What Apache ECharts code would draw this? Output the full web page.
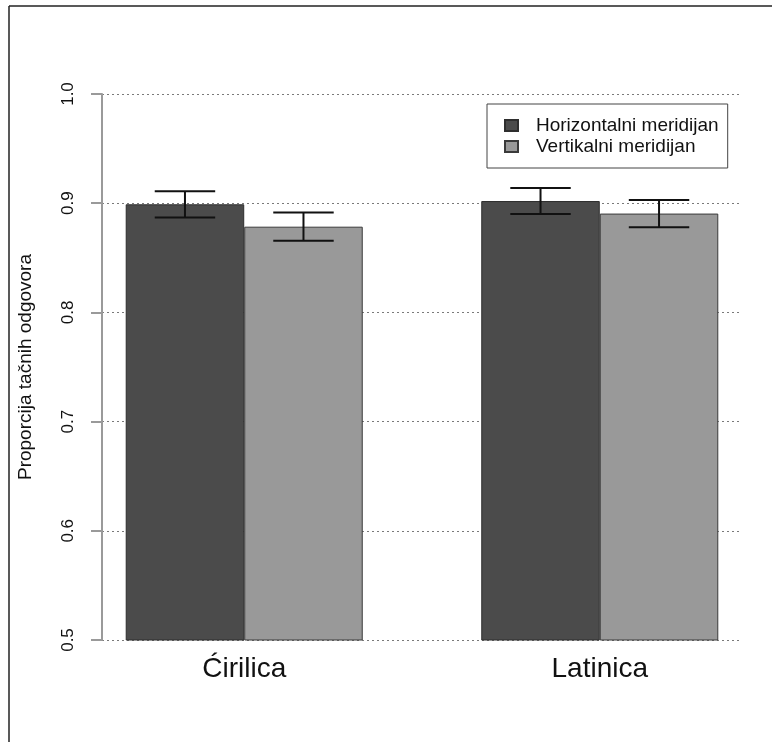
<!DOCTYPE html>
<html>
<head>
<meta charset="utf-8">
<script src="https://cdn.jsdelivr.net/npm/echarts@6/dist/echarts.min.js"></script>
<style>
  html, body { margin: 0; padding: 0; background: #ffffff; }
  #chart { width: 776px; height: 742px; }
</style>
</head>
<body>
<div id="chart"></div>
<script>
// Groups and series
const categories = ['Ćirilica', 'Latinica'];
const seriesNames = ['Horizontalni meridijan', 'Vertikalni meridijan'];

// Mean proportion of correct answers per script
const horizontalMeans = [0.899, 0.902];
const verticalMeans = [0.8785, 0.8905];

// Standard errors (drawn as ±1 SE whiskers)
const horizontalSE = [0.012, 0.012];
const verticalSE = [0.013, 0.0125];

// Y axis ticks
const yTicks = [0.5, 0.6, 0.7, 0.8, 0.9, 1.0];

// Bar slot layout: each group holds two unit-wide bars, groups separated by one bar width
const groupStart = [1, 4];
const xMin = 0.8, xMax = 6.2;

const FONT = "'Liberation Sans', Arial, Helvetica, sans-serif";
const gridLeft = 102, gridRight = 34, gridTop = 94, gridBottom = 102;
const chartW = 776;
const unitPx = (chartW - gridLeft - gridRight) / (xMax - xMin);

const hData = categories.map((c, i) => [groupStart[i] + 0.5, horizontalMeans[i]]);
const vData = categories.map((c, i) => [groupStart[i] + 1.5, verticalMeans[i]]);
const errData = [];
categories.forEach((c, i) => {
  errData.push([groupStart[i] + 0.5, horizontalMeans[i] - horizontalSE[i], horizontalMeans[i] + horizontalSE[i]]);
  errData.push([groupStart[i] + 1.5, verticalMeans[i] - verticalSE[i], verticalMeans[i] + verticalSE[i]]);
});
const labelPositions = categories.map((c, i) => groupStart[i] + 1);

const chart = echarts.init(document.getElementById('chart'), null, { renderer: 'canvas' });

chart.setOption({
  backgroundColor: '#ffffff',
  animation: false,
  textStyle: { fontFamily: FONT },
  grid: { left: gridLeft, right: gridRight, top: gridTop, bottom: gridBottom, containLabel: false },
  xAxis: {
    type: 'value',
    min: xMin,
    max: xMax,
    axisLine: { show: false },
    axisTick: { show: false },
    splitLine: { show: false },
    axisLabel: {
      customValues: labelPositions,
      formatter: v => categories[labelPositions.indexOf(v)] || '',
      fontSize: 28,
      color: '#111',
      margin: 15,
      fontFamily: FONT
    }
  },
  yAxis: {
    type: 'value',
    min: yTicks[0],
    max: yTicks[yTicks.length - 1],
    interval: 0.1,
    name: 'Proporcija tačnih odgovora',
    nameLocation: 'middle',
    nameRotate: 90,
    nameGap: 67,
    nameTextStyle: { fontSize: 19, color: '#111', fontFamily: FONT },
    axisLine: { show: true, lineStyle: { color: '#9a9a9a', width: 2 } },
    axisTick: { show: true, length: 11, lineStyle: { color: '#9a9a9a', width: 2 } },
    axisLabel: {
      rotate: 90,
      margin: 25,
      fontSize: 17,
      color: '#111',
      fontFamily: FONT,
      formatter: v => v.toFixed(1)
    },
    splitLine: { show: true, lineStyle: { color: '#7a7a7a', width: 1, type: [2, 3] } }
  },
  legend: {
    data: seriesNames,
    orient: 'vertical',
    left: 487,
    top: 104,
    padding: [11, 9, 11, 17],
    itemGap: 0,
    itemWidth: 13,
    itemHeight: 11,
    icon: 'rect',
    borderColor: '#444',
    borderWidth: 1,
    textStyle: { fontSize: 19, color: '#111', lineHeight: 21, padding: [0, 0, 0, 13], fontFamily: FONT }
  },
  series: [
    {
      name: seriesNames[0],
      type: 'bar',
      data: hData,
      barWidth: unitPx,
      barGap: '-100%',
      itemStyle: { color: '#4b4b4b', borderColor: '#2e2e2e', borderWidth: 1 }
    },
    {
      name: seriesNames[1],
      type: 'bar',
      data: vData,
      barWidth: unitPx,
      barGap: '-100%',
      itemStyle: { color: '#999999', borderColor: '#3a3a3a', borderWidth: 1 }
    },
    {
      name: 'se',
      type: 'custom',
      data: errData,
      encode: { x: 0, y: [1, 2] },
      z: 10,
      renderItem: (params, api) => {
        const x = api.value(0);
        const lo = api.coord([x, api.value(1)]);
        const hi = api.coord([x, api.value(2)]);
        const half = api.size([0.51, 0])[0] / 2;
        const style = { stroke: '#111', lineWidth: 2 };
        return {
          type: 'group',
          children: [
            { type: 'line', shape: { x1: hi[0], y1: hi[1], x2: lo[0], y2: lo[1] }, style },
            { type: 'line', shape: { x1: hi[0] - half, y1: hi[1], x2: hi[0] + half, y2: hi[1] }, style },
            { type: 'line', shape: { x1: lo[0] - half, y1: lo[1], x2: lo[0] + half, y2: lo[1] }, style }
          ]
        };
      }
    }
  ],
  graphic: [
    { type: 'line', shape: { x1: 9, y1: 6, x2: 772, y2: 6 }, style: { stroke: '#222', lineWidth: 1.5 } },
    { type: 'line', shape: { x1: 9, y1: 6, x2: 9, y2: 742 }, style: { stroke: '#222', lineWidth: 1.5 } }
  ]
});
</script>
</body>
</html>
